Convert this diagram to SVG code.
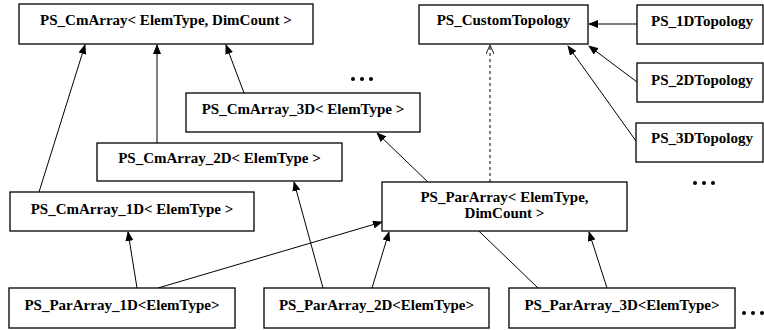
<svg xmlns="http://www.w3.org/2000/svg" width="764" height="330" viewBox="0 0 764 330">
<defs>
<marker id="tri" markerWidth="10" markerHeight="8" refX="9" refY="4" orient="auto" markerUnits="userSpaceOnUse">
<path d="M0,0 L10,4 L0,8 Z" fill="#000"/>
</marker>
<marker id="open" markerWidth="10" markerHeight="8" refX="9" refY="4" orient="auto" markerUnits="userSpaceOnUse">
<path d="M0,0 L9,4 L0,8" fill="none" stroke="#000" stroke-width="0.9"/>
</marker>
</defs>
<style>
.box{fill:#fff;stroke:#000;stroke-width:1.3}
.t{font-family:"Liberation Serif","Times New Roman",serif;font-weight:bold;font-size:15px;text-anchor:middle;fill:#000}
.c{stroke:#000;stroke-width:1;fill:none;marker-end:url(#tri)}
.d{stroke:#000;stroke-width:1;fill:none;stroke-dasharray:3,3;marker-end:url(#open)}
.dot{fill:#000}
</style>
<rect width="764" height="330" fill="#fff"/>
<g id="connectors">
<line class="c" x1="39" y1="192" x2="85" y2="45"/>
<line class="c" x1="157" y1="143" x2="157" y2="45"/>
<line class="c" x1="244" y1="93" x2="226" y2="45"/>
<line class="c" x1="137" y1="288" x2="128" y2="232"/>
<line class="c" x1="158" y1="288" x2="382" y2="222"/>
<line class="c" x1="323" y1="288" x2="294" y2="182"/>
<line class="c" x1="372" y1="288" x2="389" y2="232"/>
<line class="c" x1="538" y1="288" x2="377" y2="133"/>
<line class="c" x1="607" y1="288" x2="589" y2="232"/>
<line class="d" x1="490" y1="182" x2="490" y2="45"/>
<line class="c" x1="637" y1="24" x2="589" y2="24"/>
<line class="c" x1="637" y1="82" x2="589" y2="46"/>
<line class="c" x1="636" y1="141" x2="568" y2="46"/>
</g>
<g id="cmarray">
<rect class="box" x="19" y="4" width="294" height="40"/>
<text class="t" x="166" y="25">PS_CmArray&lt; ElemType, DimCount &gt;</text>
</g>
<g id="customtopology">
<rect class="box" x="419" y="5" width="169" height="39"/>
<text class="t" x="503.5" y="25">PS_CustomTopology</text>
</g>
<g id="topo1d">
<rect class="box" x="637" y="5" width="126" height="39"/>
<text class="t" x="702" y="26">PS_1DTopology</text>
</g>
<g id="topo2d">
<rect class="box" x="637" y="63" width="126" height="39"/>
<text class="t" x="702" y="85">PS_2DTopology</text>
</g>
<g id="topo3d">
<rect class="box" x="636" y="123" width="127" height="39"/>
<text class="t" x="702" y="143">PS_3DTopology</text>
</g>
<g id="cmarray3d">
<rect class="box" x="186" y="93" width="234" height="39"/>
<text class="t" x="303" y="114">PS_CmArray_3D&lt; ElemType &gt;</text>
</g>
<g id="cmarray2d">
<rect class="box" x="97" y="143" width="245" height="38"/>
<text class="t" x="219.5" y="163">PS_CmArray_2D&lt; ElemType &gt;</text>
</g>
<g id="cmarray1d">
<rect class="box" x="10" y="192" width="244" height="39"/>
<text class="t" x="132" y="214">PS_CmArray_1D&lt; ElemType &gt;</text>
</g>
<g id="pararray">
<rect class="box" x="382" y="182" width="245" height="49"/>
<text class="t" x="504.5" y="202">PS_ParArray&lt; ElemType,</text>
<text class="t" x="504.5" y="218">DimCount &gt;</text>
</g>
<g id="pararray1d">
<rect class="box" x="9" y="288" width="226" height="40"/>
<text class="t" x="122" y="310">PS_ParArray_1D&lt;ElemType&gt;</text>
</g>
<g id="pararray2d">
<rect class="box" x="264" y="288" width="225" height="40"/>
<text class="t" x="376.5" y="310">PS_ParArray_2D&lt;ElemType&gt;</text>
</g>
<g id="pararray3d">
<rect class="box" x="509" y="288" width="226" height="40"/>
<text class="t" x="622" y="310">PS_ParArray_3D&lt;ElemType&gt;</text>
</g>
<g id="dots">
<circle class="dot" cx="353" cy="79" r="2"/>
<circle class="dot" cx="362" cy="79" r="2"/>
<circle class="dot" cx="371" cy="79" r="2"/>
<circle class="dot" cx="695" cy="183" r="2"/>
<circle class="dot" cx="704" cy="183" r="2"/>
<circle class="dot" cx="713" cy="183" r="2"/>
<circle class="dot" cx="744" cy="313" r="2"/>
<circle class="dot" cx="753" cy="313" r="2"/>
<circle class="dot" cx="762" cy="313" r="2"/>
</g>
</svg>
